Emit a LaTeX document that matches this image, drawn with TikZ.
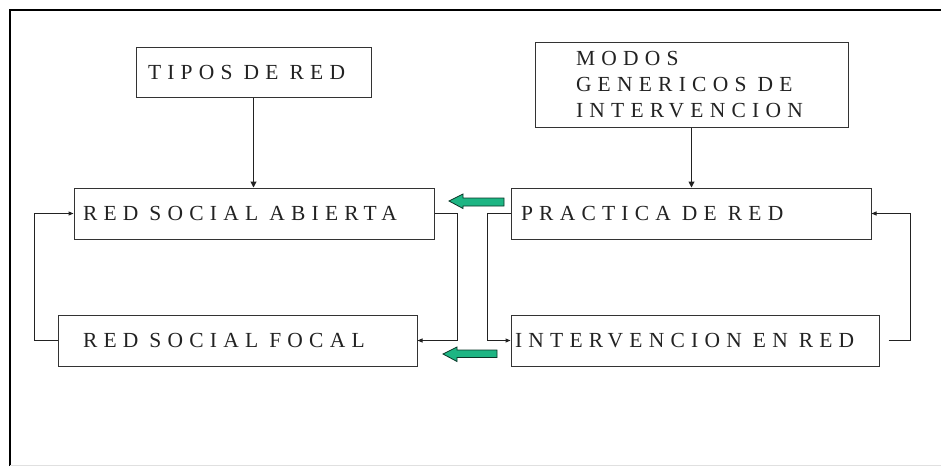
\documentclass[tikz,border=0pt]{standalone}
\usepackage{fontspec}
\setmainfont{Liberation Serif}
\usetikzlibrary{arrows.meta}
\definecolor{ink}{HTML}{222222}
\definecolor{boxline}{HTML}{333333}
\definecolor{teal}{HTML}{1DB583}
\begin{document}
\begin{tikzpicture}[x=1pt,y=-1pt,
  lbl/.style={font=\fontsize{21.5}{26}\selectfont\addfontfeature{LetterSpace=29}, text=ink,
    execute at begin node={\spaceskip=11pt\relax}},
  boxn/.style={draw=boxline, line width=1pt, lbl, align=left, inner ysep=0pt, anchor=center},
  conn/.style={draw=ink, line width=1pt},
  down/.style={conn, -{Triangle[length=6pt,width=6pt]}},
  loop/.style={conn, -{Triangle[length=5pt,width=4pt]}},
  greenarrow/.style={fill=teal, draw=black!70!teal, line width=0.8pt, line join=miter}
]
\useasboundingbox (0,0) rectangle (941,466);
% frame
\draw[line width=2pt, black] (10,466) -- (10,10) -- (941,10);
\draw[line width=1pt, black!12] (10,465.5) -- (941,465.5);

% boxes
\node[boxn, inner xsep=12pt, text width=211pt, minimum height=50pt] (tipos) at (253.5,72) {TIPOS DE RED};
\node[boxn, inner xsep=41pt, text width=231pt, minimum height=85pt] (modos) at (691.5,84.5) {MODOS\\GENERICOS DE\\INTERVENCION};
\node[boxn, inner xsep=9pt, text width=342pt, minimum height=51pt] (rsa) at (254,213.5) {RED SOCIAL ABIERTA};
\node[boxn, inner xsep=25pt, text width=309pt, minimum height=51pt] (rsf) at (237.5,340.5) {RED SOCIAL FOCAL};
\node[boxn, inner xsep=10pt, text width=340pt, minimum height=51pt] (pdr) at (691,213.5) {PRACTICA DE RED};
\node[boxn, inner xsep=4pt, text width=360pt, minimum height=51pt] (ier) at (695,340.5) {INTERVENCION EN RED};

% vertical arrows
\draw[down] (tipos.south) -- (tipos.south |- rsa.north);
\draw[down] (modos.south) -- (modos.south |- pdr.north);

% loops
\draw[loop] (rsf.west) -- ++(-23,0) |- (rsa.west);
\draw[loop] (rsa.east) -- ++(23,0) |- (rsf.east);
\draw[loop] (pdr.west) -- ++(-23,0) |- (ier.west);
\coordinate (ierout) at ([xshift=9pt]ier.east);
\draw[loop] (ierout) -- ++(22,0) |- (pdr.east);

% green block arrows
\draw[greenarrow] (449,201) -- (463,194) -- (463,198) -- (504,198) -- (504,206) -- (463,206) -- (463,208.5) -- cycle;
\draw[greenarrow] (443,354) -- (457,347) -- (457,350) -- (497,350) -- (497,357.5) -- (457,357.5) -- (457,361.5) -- cycle;
\end{tikzpicture}
\end{document}
